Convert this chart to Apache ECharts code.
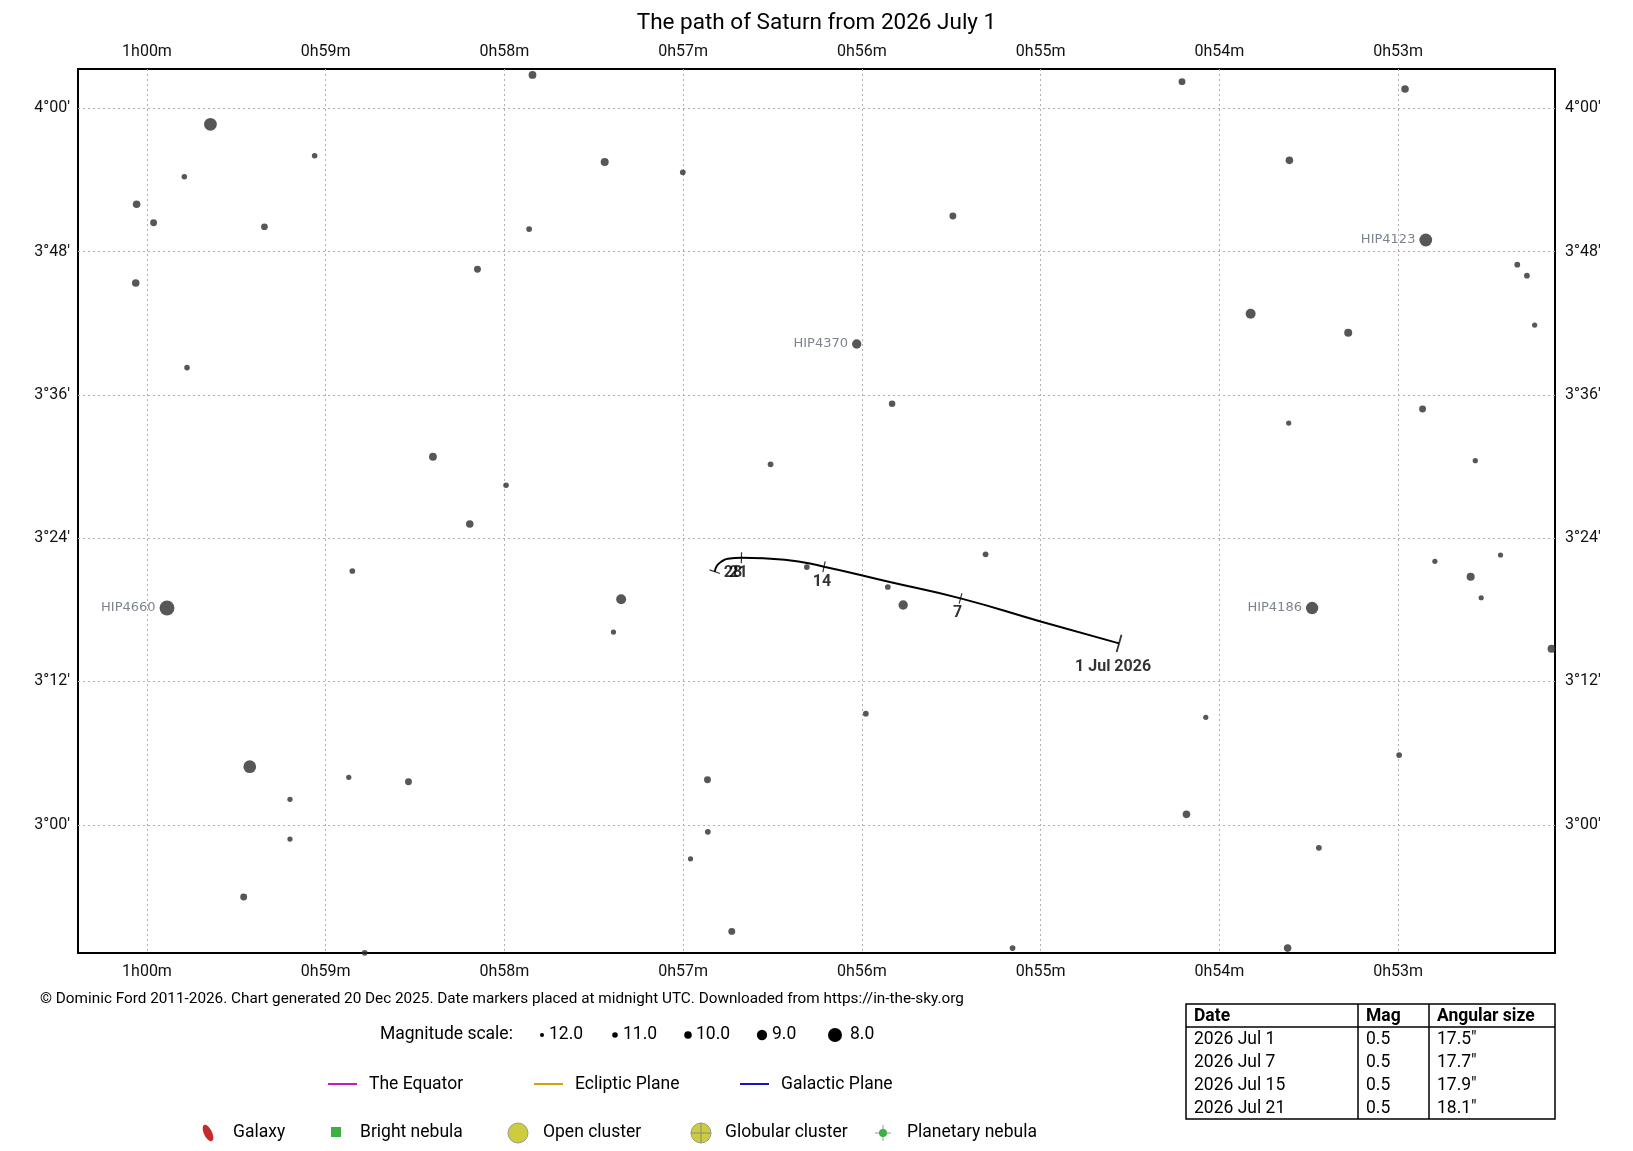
<!DOCTYPE html>
<html>
<head>
<meta charset="utf-8">
<script src="https://cdn.jsdelivr.net/npm/echarts@6/dist/echarts.min.js"></script>
<style>
html,body{margin:0;padding:0;background:#fff;}
#chart{width:1633px;height:1151px;}
</style>
</head>
<body>
<div id="chart"></div>
<script>
// axis ticks: RA in minutes of time, Dec in arcminutes
var raTicks = [60, 59, 58, 57, 56, 55, 54, 53];
var decTicks = [180, 192, 204, 216, 228, 240];

// background stars (RA min, Dec arcmin, magnitude)
var starRa = [57.843, 59.645, 59.062, 59.791, 60.058, 59.963, 59.343, 57.862, 60.063, 58.151, 59.776, 58.400, 57.991,
  57.439, 57.002, 55.491, 56.029, 55.831, 56.511,
  54.209, 52.961, 53.608, 52.845, 52.333, 52.279, 53.825, 53.279, 52.236, 52.863, 53.612, 52.568,
  58.194, 58.851, 59.888, 59.425, 58.871, 58.537, 59.200, 59.200, 59.459, 58.782,
  57.347, 57.390, 56.308, 55.855, 55.769, 55.308, 55.978, 56.864, 56.862, 56.959, 56.728, 55.157,
  52.794, 52.427, 52.594, 52.535, 53.481, 52.141, 54.076, 52.994, 54.184, 53.443, 53.618];
var starDec = [242.79, 238.66, 236.03, 234.27, 231.96, 230.42, 230.08, 229.89, 225.37, 226.52, 218.28, 210.82, 208.43,
  235.50, 234.64, 230.98, 220.26, 215.26, 210.18,
  242.23, 241.62, 235.64, 228.97, 226.90, 225.98, 222.80, 221.21, 221.85, 214.82, 213.64, 210.49,
  205.18, 201.25, 198.15, 184.86, 183.97, 183.60, 182.13, 178.80, 173.95, 169.28,
  198.88, 196.14, 201.58, 199.91, 198.40, 202.65, 189.30, 183.77, 179.41, 177.15, 171.07, 169.67,
  202.06, 202.59, 200.77, 199.01, 198.15, 194.74, 189.00, 185.84, 180.87, 178.07, 169.67];
var starMag = [9.9, 8.3, 11.0, 11.0, 10.0, 10.3, 10.4, 10.9, 10.0, 10.3, 11.0, 9.9, 11.0,
  9.8, 10.9, 10.3, 9.3, 10.5, 10.9,
  10.3, 10.0, 10.0, 8.3, 10.9, 10.9, 9.1, 9.8, 11.2, 10.3, 11.2, 11.2,
  10.0, 10.9, 7.8, 8.3, 11.2, 10.3, 11.2, 11.2, 10.3, 10.9,
  9.1, 11.2, 10.9, 10.9, 9.3, 10.9, 10.9, 10.3, 10.9, 11.2, 10.3, 10.9,
  11.2, 11.2, 9.8, 11.2, 8.4, 9.8, 11.2, 10.9, 10.0, 10.9, 10.0];
var starName = ['', '', '', '', '', '', '', '', '', '', '', '', '',
  '', '', '', 'HIP4370', '', '',
  '', '', '', 'HIP4123', '', '', '', '', '', '', '', '',
  '', '', 'HIP4660', '', '', '', '', '', '', '',
  '', '', '', '', '', '', '', '', '', '', '', '',
  '', '', '', '', 'HIP4186', '', '', '', '', '', ''];

// path of Saturn, 1 Jul -> 28 Jul 2026
var pathRa = [54.561, 54.995, 55.448, 55.844, 56.212, 56.431, 56.674, 56.750, 56.786, 56.812, 56.823];
var pathDec = [195.19, 197.00, 198.96, 200.33, 201.61, 202.20, 202.36, 202.28, 202.03, 201.67, 201.19];
var markIndex = [0, 2, 4, 6, 10];
var markLabel = ['1 Jul 2026', '7', '14', '21', '28'];

// legend + table
var magScale = [12.0, 11.0, 10.0, 9.0, 8.0];
var tableDates = ['2026 Jul 1', '2026 Jul 7', '2026 Jul 15', '2026 Jul 21'];
var tableMags = ['0.5', '0.5', '0.5', '0.5'];
var tableSizes = ['17.5"', '17.7"', '17.9"', '18.1"'];

var FONT = 'Roboto, "Liberation Sans", sans-serif';

function pad(n) { return (n < 10 ? '0' : '') + n; }
function raFmt(v) { var m = Math.round(v); return Math.floor(m / 60) + 'h' + pad(m % 60) + 'm'; }
function decFmt(v) { var m = Math.round(v); return Math.floor(m / 60) + '°' + pad(m % 60) + "'"; }
function magSize(m) { return 14 * Math.pow(1.36, 8 - m); }

// tick across the path, perpendicular to the local direction
function tickAngle(i) {
  var a = Math.max(i - 1, 0), b = Math.min(i + 1, pathRa.length - 1);
  var dx = -(pathRa[b] - pathRa[a]) * 14.97;
  var dy = pathDec[b] - pathDec[a];
  return Math.atan2(dy, dx) * 180 / Math.PI;
}

var stars = starRa.map(function (r, i) {
  var item = { name: starName[i], value: [r, starDec[i], starMag[i]] };
  if (starName[i]) {
    item.label = { show: true, position: 'left', distance: 4, formatter: '{b}',
      color: '#5c6472', fontSize: 13, fontFamily: '"DejaVu Sans", sans-serif' };
  }
  return item;
});

var labelOffsets = [[-6, 24], [-3, 15], [-2, 15], [-3, 15], [9, 1]];
var marks = markIndex.map(function (idx, k) {
  return {
    value: [pathRa[idx], pathDec[idx]],
    symbolRotate: tickAngle(idx),
    symbolSize: k === 0 ? [1.8, 18] : [1.2, 11]
  };
});
var markTexts = markIndex.map(function (idx, k) {
  return {
    value: [pathRa[idx], pathDec[idx]],
    label: { show: true, position: 'inside', formatter: markLabel[k], offset: labelOffsets[k],
      align: k === 4 ? 'left' : 'center', fontWeight: 'bold', fontSize: 16, color: '#000', fontFamily: FONT }
  };
});

// ---- graphic: footer, legends, table
var g = [];
function txt(x, y, s, opt) {
  opt = opt || {};
  g.push({ type: 'text', x: x, y: y, z: 10, style: {
    text: s, font: (opt.bold ? 'bold ' : '') + (opt.size || 17.5) + 'px ' + FONT,
    fill: opt.color || '#000', align: opt.align || 'left', textAlign: opt.align || 'left',
    verticalAlign: 'middle', textVerticalAlign: 'middle' } });
}
txt(40, 999, '© Dominic Ford 2011-2026. Chart generated 20 Dec 2025. Date markers placed at midnight UTC. Downloaded from https://in-the-sky.org', { size: 15.3 });

// magnitude scale
var my = 1035;
txt(380, my, 'Magnitude scale:');
var magDotX = [542, 615, 688, 762, 835];
var magTextX = [549, 623, 696, 772, 850];
magScale.forEach(function (m, i) {
  g.push({ type: 'circle', shape: { cx: magDotX[i], cy: my, r: magSize(m) / 2 }, style: { fill: '#000' } });
  txt(magTextX[i], my, m.toFixed(1));
});

// great circles
var ly = 1084;
var lineLeg = [['The Equator', '#c21bc2', 328], ['Ecliptic Plane', '#d4a010', 534], ['Galactic Plane', '#1515c8', 740]];
lineLeg.forEach(function (l) {
  g.push({ type: 'line', shape: { x1: l[2], y1: ly, x2: l[2] + 29, y2: ly }, style: { stroke: l[1], lineWidth: 2 } });
  txt(l[2] + 41, ly + 1, l[0]);
});

// object types
var oy = 1133;
g.push({ type: 'ellipse', shape: { cx: 0, cy: 0, rx: 4, ry: 9 }, x: 208, y: oy, rotation: 0.45, style: { fill: '#c42b2b' } });
txt(233, oy, 'Galaxy');
g.push({ type: 'rect', shape: { x: 331, y: oy - 6, width: 10, height: 10 }, style: { fill: '#3cb043' } });
txt(360, oy, 'Bright nebula');
g.push({ type: 'circle', shape: { cx: 518, cy: oy, r: 10 }, style: { fill: '#cccc3c', stroke: '#999', lineWidth: 1 } });
txt(543, oy, 'Open cluster');
g.push({ type: 'circle', shape: { cx: 701, cy: oy, r: 10 }, style: { fill: '#cccc3c', stroke: '#999', lineWidth: 1 } });
g.push({ type: 'line', shape: { x1: 691, y1: oy, x2: 711, y2: oy }, style: { stroke: '#888', lineWidth: 1 } });
g.push({ type: 'line', shape: { x1: 701, y1: oy - 10, x2: 701, y2: oy + 10 }, style: { stroke: '#888', lineWidth: 1 } });
txt(725, oy, 'Globular cluster');
g.push({ type: 'line', shape: { x1: 875, y1: oy, x2: 891, y2: oy }, style: { stroke: '#999', lineWidth: 1 } });
g.push({ type: 'line', shape: { x1: 883, y1: oy - 8, x2: 883, y2: oy + 8 }, style: { stroke: '#999', lineWidth: 1 } });
g.push({ type: 'circle', shape: { cx: 883, cy: oy, r: 4 }, style: { fill: '#3cb043' } });
txt(907, oy, 'Planetary nebula');

// table
var tx0 = 1186, tx1 = 1555, ty0 = 1004, ty1 = 1119, colX = [1358, 1429], rowH = 23;
g.push({ type: 'rect', shape: { x: tx0, y: ty0, width: tx1 - tx0, height: ty1 - ty0 }, style: { fill: 'none', stroke: '#000', lineWidth: 1.5 } });
g.push({ type: 'line', shape: { x1: tx0, y1: 1027, x2: tx1, y2: 1027 }, style: { stroke: '#000', lineWidth: 1.5 } });
colX.forEach(function (cx) {
  g.push({ type: 'line', shape: { x1: cx, y1: ty0, x2: cx, y2: ty1 }, style: { stroke: '#000', lineWidth: 1.5 } });
});
txt(tx0 + 8, 1017, 'Date', { bold: true });
txt(colX[0] + 8, 1017, 'Mag', { bold: true });
txt(colX[1] + 8, 1017, 'Angular size', { bold: true });
tableDates.forEach(function (d, i) {
  var y = 1040 + i * rowH;
  txt(tx0 + 8, y, d);
  txt(colX[0] + 8, y, tableMags[i]);
  txt(colX[1] + 8, y, tableSizes[i]);
});

var gridLine = { show: true, lineStyle: { color: '#b0b0b0', width: 1, type: [2, 3] } };
var axLabel = { color: '#111', fontSize: 16, fontFamily: FONT };

function xAx(pos, grid) {
  return { type: 'value', position: pos, min: 52.122, max: 60.386, inverse: true,
    axisLine: { show: false }, axisTick: { show: false, customValues: raTicks },
    axisLabel: Object.assign({ customValues: raTicks, formatter: raFmt, margin: pos === 'top' ? 9 : 11 }, axLabel),
    splitLine: grid ? gridLine : { show: false } };
}
function yAx(pos, grid) {
  return { type: 'value', position: pos, min: 169.26, max: 243.29,
    axisLine: { show: false }, axisTick: { show: false, customValues: decTicks },
    axisLabel: Object.assign({ customValues: decTicks, formatter: decFmt, margin: pos === 'left' ? 8 : 10 }, axLabel),
    splitLine: grid ? gridLine : { show: false } };
}

var chart = echarts.init(document.getElementById('chart'));
chart.setOption({
  backgroundColor: '#fff',
  animation: false,
  title: { text: 'The path of Saturn from 2026 July 1', left: 'center', top: 7,
    textStyle: { fontSize: 22.5, fontWeight: 'normal', color: '#000', fontFamily: FONT } },
  grid: { left: 78, right: 78, top: 69, bottom: 198, show: true, borderColor: '#000', borderWidth: 2 },
  xAxis: [xAx('bottom', true), xAx('top', false)],
  yAxis: [yAx('left', true), yAx('right', false)],
  series: [
    { type: 'scatter', name: 'stars', data: stars, symbol: 'circle',
      symbolSize: function (v) { return magSize(v[2]); },
      itemStyle: { color: '#2d2d2d' }, clip: true, z: 2 },
    { type: 'line', name: 'path', data: pathRa.map(function (r, i) { return [r, pathDec[i]]; }),
      smooth: 0.5, showSymbol: false, lineStyle: { color: '#000', width: 2 }, z: 3 },
    { type: 'scatter', name: 'ticks', data: marks, symbol: 'rect', itemStyle: { color: '#000' }, z: 4 },
    { type: 'scatter', name: 'dates', data: markTexts, symbolSize: 1, itemStyle: { color: 'rgba(0,0,0,0)' }, z: 5 }
  ],
  graphic: g
});
</script>
</body>
</html>
